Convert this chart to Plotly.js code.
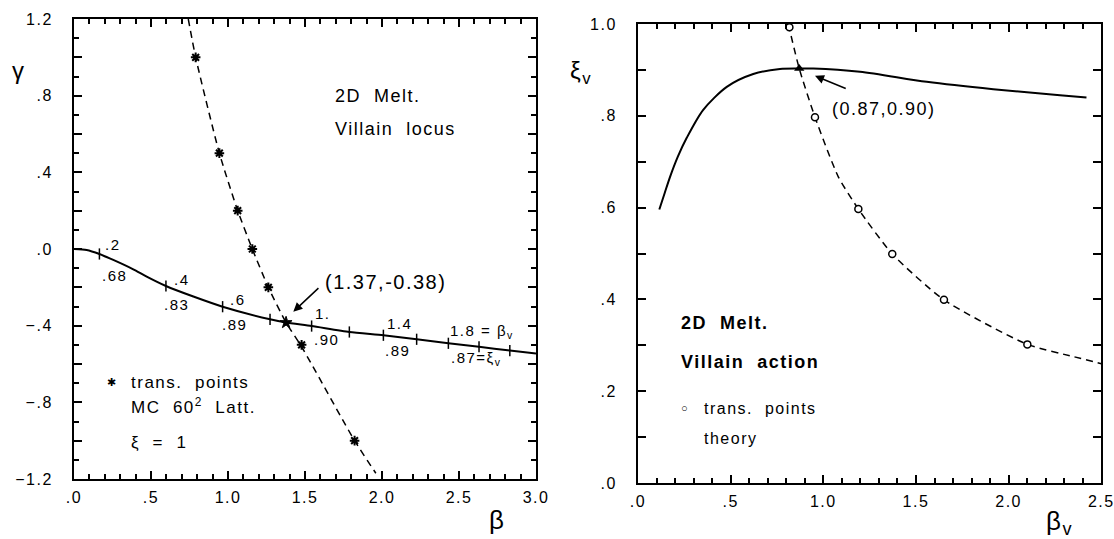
<!DOCTYPE html>
<html>
<head>
<meta charset="utf-8">
<script src="https://cdn.plot.ly/plotly-3.0.1.min.js"></script>
<style>
  html, body { margin: 0; padding: 0; background: #fff; }
  svg text { letter-spacing: 1.5px; }
</style>
</head>
<body>
<div id="chart" style="width:1114px;height:539px;"></div>
<script>
// ---------- Left panel: Villain locus (beta, gamma) ----------
const locusBeta  = [0, 0.082, 0.165, 0.255, 0.385, 0.472, 0.597, 0.775, 0.965, 1.273, 1.377, 1.543, 1.788, 2.009, 2.225, 2.431, 2.63, 2.83, 3.0];
const locusGamma = [0, -0.005, -0.026, -0.057, -0.106, -0.144, -0.193, -0.248, -0.301, -0.367, -0.384, -0.402, -0.433, -0.450, -0.471, -0.492, -0.510, -0.530, -0.545];
const locusTickBeta  = [0.165, 0.597, 0.965, 1.273, 1.543, 1.788, 2.009, 2.225, 2.431, 2.63, 2.83];
const locusTickGamma = [-0.026, -0.193, -0.301, -0.367, -0.402, -0.433, -0.450, -0.471, -0.492, -0.510, -0.530];
const mcBeta  = [0.790, 0.944, 1.063, 1.158, 1.262, 1.478, 1.822];
const mcGamma = [1.0, 0.5, 0.2, 0.0, -0.2, -0.5, -1.0];
const mcFitBeta  = [0.742, 0.790, 0.944, 1.063, 1.158, 1.262, 1.377, 1.478, 1.822, 1.960];
const mcFitGamma = [1.2, 1.0, 0.5, 0.2, 0.0, -0.2, -0.384, -0.51, -1.0, -1.17];
const crossLeft = {beta: [1.377], gamma: [-0.384]};
const betaVLabels = ['.2', '.4', '.6', '1.', '1.4', '1.8 = β<sub>v</sub>'];
const xiVLabels   = ['.68', '.83', '.89', '.90', '.89', '.87=ξ<sub>v</sub>'];

// ---------- Right panel: Villain action (beta_V, xi_V) ----------
const actionBetaV = [0.115, 0.145, 0.173, 0.215, 0.263, 0.352, 0.479, 0.622, 0.766, 0.87, 0.946, 1.198, 1.558, 1.917, 2.277, 2.42];
const actionXiV   = [0.596, 0.633, 0.667, 0.711, 0.752, 0.813, 0.863, 0.891, 0.902, 0.903, 0.903, 0.896, 0.874, 0.858, 0.845, 0.840];
const theoryBetaV = [0.817, 0.955, 1.189, 1.372, 1.651, 2.101];
const theoryXiV   = [0.993, 0.797, 0.597, 0.499, 0.399, 0.302];
const theoryFitBetaV = [0.811, 0.87, 0.955, 1.081, 1.189, 1.372, 1.651, 2.101, 2.353, 2.5];
const theoryFitXiV   = [1.0, 0.903, 0.797, 0.667, 0.597, 0.499, 0.399, 0.302, 0.275, 0.26];
const crossRight = {betaV: [0.87], xiV: [0.903]};

// ---------- tick labels ----------
const leftXTicks = [0, 0.5, 1.0, 1.5, 2.0, 2.5, 3.0];
const leftXText  = ['.0', '.5', '1.0', '1.5', '2.0', '2.5', '3.0'];
const leftYTicks = [-1.2, -1.0, -0.8, -0.6, -0.4, -0.2, 0, 0.2, 0.4, 0.6, 0.8, 1.0, 1.2];
const leftYText  = ['−1.2', ' ', '−.8', ' ', '−.4', ' ', '.0', ' ', '.4', ' ', '.8', ' ', '1.2'];
const rightXTicks = [0, 0.5, 1.0, 1.5, 2.0, 2.5];
const rightXText  = ['.0', '.5', '1.0', '1.5', '2.0', '2.5'];
const rightYTicks = [0, 0.1, 0.2, 0.3, 0.4, 0.5, 0.6, 0.7, 0.8, 0.9, 1.0];
const rightYText  = ['.0', ' ', '.2', ' ', '.4', ' ', '.6', ' ', '.8', ' ', '1.0'];

const FONT = 'Liberation Sans, Arial, sans-serif';
const BLACK = '#000';

const traces = [
  {x: locusBeta, y: locusGamma, xaxis: 'x', yaxis: 'y', mode: 'lines',
   line: {color: BLACK, width: 2, shape: 'spline', smoothing: 0.6}},
  {x: locusTickBeta, y: locusTickGamma, xaxis: 'x', yaxis: 'y', mode: 'markers',
   marker: {symbol: 'line-ns-open', size: 8, color: BLACK, line: {color: BLACK, width: 1.5}}},
  {x: mcFitBeta, y: mcFitGamma, xaxis: 'x', yaxis: 'y', mode: 'lines',
   line: {color: BLACK, width: 1.5, dash: '7px,5px', shape: 'spline', smoothing: 0.6}},
  {x: mcBeta, y: mcGamma, xaxis: 'x', yaxis: 'y', mode: 'markers',
   marker: {symbol: 'asterisk-open', size: 8, color: BLACK, line: {color: BLACK, width: 2}}},
  {x: crossLeft.beta, y: crossLeft.gamma, xaxis: 'x', yaxis: 'y', mode: 'markers',
   marker: {symbol: 'star', size: 9, color: BLACK, line: {color: BLACK, width: 1}}},
  {x: actionBetaV, y: actionXiV, xaxis: 'x2', yaxis: 'y2', mode: 'lines',
   line: {color: BLACK, width: 2, shape: 'spline', smoothing: 0.8}},
  {x: theoryFitBetaV, y: theoryFitXiV, xaxis: 'x2', yaxis: 'y2', mode: 'lines',
   line: {color: BLACK, width: 1.5, dash: '7px,5px', shape: 'spline', smoothing: 0.6}},
  {x: theoryBetaV, y: theoryXiV, xaxis: 'x2', yaxis: 'y2', mode: 'markers', cliponaxis: false,
   marker: {symbol: 'circle', size: 7, color: '#fff', line: {color: BLACK, width: 1.5}}},
  {x: crossRight.betaV, y: crossRight.xiV, xaxis: 'x2', yaxis: 'y2', mode: 'markers',
   marker: {symbol: 'triangle-up', size: 9, color: BLACK}}
];

function txt(xref, yref, x, y, text, size, anchor) {
  return {xref: xref, yref: yref, x: x, y: y, text: text, showarrow: false,
          xanchor: anchor || 'left', yanchor: 'middle', font: {family: FONT, size: size, color: BLACK}};
}

const betaVPos = [[0.188, 0.025], [0.634, -0.158], [1.0, -0.261], [1.552, -0.336], [2.019, -0.391], [2.431, -0.433]];
const xiVPos   = [[0.169, -0.139], [0.569, -0.292], [0.948, -0.396], [1.543, -0.471], [2.008, -0.530], [2.437, -0.570]];
const annotations = [];
betaVLabels.forEach((t, i) => annotations.push(txt('x', 'y', betaVPos[i][0], betaVPos[i][1], t, 15)));
xiVLabels.forEach((t, i) => annotations.push(txt('x', 'y', xiVPos[i][0], xiVPos[i][1], t, 15)));
annotations.push(
  txt('x', 'y', 1.682, 0.798, '2D\u00a0 Melt.', 18),
  txt('x', 'y', 1.682, 0.626, 'Villain\u00a0 locus', 18),
  txt('x', 'y', 1.617, -0.171, '(1.37,-0.38)', 20),
  {xref: 'x', yref: 'y', axref: 'x', ayref: 'y', x: 1.424, y: -0.327, ax: 1.597, ay: -0.197,
   text: '', showarrow: true, arrowhead: 2, arrowsize: 1.2, arrowwidth: 1.5, arrowcolor: BLACK, standoff: 0},
  txt('x', 'y', 0.20, -0.695, '✱', 11),
  txt('x', 'y', 0.354, -0.695, 'trans.\u00a0 points', 17),
  txt('x', 'y', 0.354, -0.817, 'MC\u00a0 60<sup>2</sup>\u00a0 Latt.', 17),
  txt('x', 'y', 0.354, -1.008, 'ξ\u00a0 =\u00a0 1', 17),
  txt('x2', 'y2', 1.036, 0.815, '(0.87,0.90)', 18),
  {xref: 'x2', yref: 'y2', axref: 'x2', ayref: 'y2', x: 0.955, y: 0.887, ax: 1.129, ay: 0.858,
   text: '', showarrow: true, arrowhead: 2, arrowsize: 1.2, arrowwidth: 1.5, arrowcolor: BLACK, standoff: 0},
  txt('x2', 'y2', 0.221, 0.348, '<b>2D\u00a0 Melt.</b>', 18),
  txt('x2', 'y2', 0.221, 0.264, '<b>Villain\u00a0 action</b>', 18),
  txt('x2', 'y2', 0.222, 0.163, '○', 11),
  txt('x2', 'y2', 0.347, 0.163, 'trans.\u00a0 points', 16),
  txt('x2', 'y2', 0.347, 0.096, 'theory', 16),
  txt('paper', 'paper', 0.009, 0.870, 'γ', 24),
  txt('paper', 'paper', 0.4461, 0.035, 'β', 26, 'center'),
  txt('paper', 'paper', 0.5099, 0.866, 'ξ<sub>v</sub>', 24),
  txt('paper', 'paper', 0.9372, 0.030, 'β<sub>v</sub>', 26)
);

const tf = {family: FONT, size: 16, color: BLACK};
const minorSpec = {dtick: 0.1, tick0: 0, ticklen: 5, tickwidth: 2, tickcolor: BLACK, ticks: 'inside'};
function axis(extra) {
  return Object.assign({showline: true, linewidth: 2, linecolor: BLACK, mirror: 'ticks',
    ticks: 'inside', ticklen: 8, tickwidth: 2, tickcolor: BLACK,
    showgrid: false, zeroline: false, tickmode: 'array', tickfont: tf, ticklabeloverflow: 'allow'}, extra);
}

const layout = {
  width: 1114, height: 539,
  margin: {l: 0, r: 0, t: 0, b: 0, pad: 0},
  paper_bgcolor: '#fff', plot_bgcolor: '#fff',
  showlegend: false,
  font: {family: FONT, color: BLACK},
  xaxis: axis({domain: [74/1114, 536/1114], range: [0, 3], anchor: 'y',
    tickvals: leftXTicks, ticktext: leftXText, minor: minorSpec, ticklabelstandoff: 3}),
  yaxis: axis({domain: [60/539, 520/539], range: [-1.2, 1.2], anchor: 'x',
    tickvals: leftYTicks, ticktext: leftYText, minor: minorSpec, ticklabelstandoff: 16}),
  xaxis2: axis({domain: [638/1114, 1101.3/1114], range: [0, 2.5], anchor: 'y2',
    tickvals: rightXTicks, ticktext: rightXText, minor: minorSpec, ticklabelstandoff: 3}),
  yaxis2: axis({domain: [56/539, 515/539], range: [0, 1], anchor: 'x2',
    tickvals: rightYTicks, ticktext: rightYText, ticklabelstandoff: 16})
};

Plotly.newPlot('chart', traces, layout, {displayModeBar: false}).then(gd => {
  return Plotly.relayout(gd, {annotations: annotations});
});
</script>
</body>
</html>
